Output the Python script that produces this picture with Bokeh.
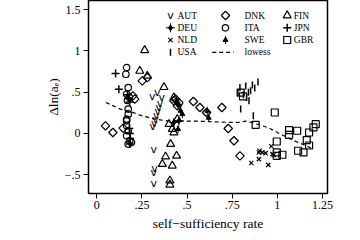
import math
from bokeh.plotting import figure
from bokeh.models import Range1d, FixedTicker, Label, Title
from bokeh.core.properties import value
from bokeh.embed import file_html
from bokeh.resources import INLINE

# ---------------- data ----------------
aut_x = [0.307, 0.335, 0.360, 0.310, 0.318, 0.325, 0.330, 0.337, 0.343, 0.350, 0.316, 0.320, 0.316, 0.316]
aut_y = [0.450, 0.490, 0.440, 0.080, 0.120, 0.170, 0.220, 0.270, 0.310, 0.360, -0.190, -0.420, -0.470, -0.610]

deu_x = [0.427, 0.440, 0.450, 0.455]
deu_y = [0.133, 0.380, 0.350, 0.153]

nld_x = [0.856, 0.898, 0.902, 0.917, 0.935, 0.898, 0.950, 0.967, 0.973, 0.980]
nld_y = [-0.357, -0.230, -0.209, -0.229, -0.237, -0.310, -0.380, -0.155, -0.249, -0.260]

usa_x = [0.782, 0.793, 0.812, 0.825, 0.830, 0.840, 0.843, 0.852, 0.862, 0.875, 0.893, 0.797, 0.867]
usa_y = [0.495, 0.556, 0.470, 0.576, 0.435, 0.500, 0.395, 0.516, 0.588, 0.550, 0.624, 0.295, 0.214]

dnk_x = [0.048, 0.089, 0.146, 0.200, 0.210, 0.252, 0.280, 0.427, 0.437, 0.446, 0.455, 0.535, 0.571, 0.608, 0.693, 0.728, 0.760, 0.793]
dnk_y = [0.093, 0.012, 0.065, 0.455, 0.415, 0.636, 0.676, 0.395, 0.415, 0.334, 0.374, 0.387, 0.314, 0.254, 0.314, 0.060, -0.088, -0.270]

ita_x = [0.165, 0.161, 0.174, 0.165, 0.180, 0.170, 0.174, 0.174, 0.165, 0.165, 0.165, 0.174, 0.165, 0.183, 0.192, 0.174]
ita_y = [0.797, 0.717, 0.556, 0.476, 0.440, 0.400, 0.295, 0.234, 0.174, 0.153, 0.093, 0.033, -0.028, -0.088, -0.109, -0.128]

swe_x = [0.464, 0.474, 0.450, 0.612, 0.620]
swe_y = [0.274, 0.234, 0.053, 0.274, 0.190]

fin_x = [0.238, 0.265, 0.280, 0.372, 0.427, 0.400, 0.446, 0.418, 0.427, 0.409, 0.381, 0.442, 0.363, 0.418, 0.405, 0.405]
fin_y = [0.757, 1.007, 0.697, 0.560, 0.435, 0.113, 0.174, 0.053, 0.012, -0.128, -0.280, -0.270, -0.370, -0.390, -0.570, -0.620]

jpn_x = [0.104, 0.122, 0.170, 0.176, 0.182, 0.180, 0.183, 0.185, 0.183]
jpn_y = [0.725, 0.536, 0.470, 0.420, 0.380, 0.060, 0.000, -0.060, -0.128]

gbr_x = [0.797, 0.810, 0.880, 0.986, 0.997, 0.997, 0.997, 1.028, 1.065, 1.065, 1.110, 1.115, 1.145, 1.163, 1.176, 1.176, 1.200, 1.213]
gbr_y = [0.495, 0.450, 0.105, 0.254, -0.097, -0.229, -0.270, -0.257, 0.040, -0.016, 0.033, -0.209, -0.229, -0.080, -0.145, 0.012, 0.073, 0.113]

lowess_x = [0.05, 0.13, 0.18, 0.25, 0.32, 0.39, 0.46, 0.55, 0.65, 0.73, 0.78, 0.83, 0.88, 0.95, 1.02, 1.09, 1.15, 1.20]
lowess_y = [0.375, 0.295, 0.270, 0.214, 0.174, 0.153, 0.150, 0.150, 0.141, 0.135, 0.133, 0.150, 0.120, 0.070, -0.010, -0.085, -0.140, -0.190]

xtick_vals = [0, 0.25, 0.5, 0.75, 1, 1.25]
xtick_labels = ["0", ".25", ".5", ".75", "1", "1.25"]
ytick_vals = [-0.5, 0, 0.5, 1, 1.5]
ytick_labels = ["\u2212.5", "0", ".5", "1", "1.5"]

x_title = "self\u2212sufficiency rate"
y_title = "\u0394ln(a\u2091)"

# legend labels in three columns
legend_cols = [["AUT", "DEU", "NLD", "USA"],
               ["DNK", "ITA", "SWE", "lowess"],
               ["FIN", "JPN", "GBR"]]

SERIF = "Liberation Serif"
K = "black"

# ---------------- layout constants (pixels) ----------------
FL, FW, FH = 88, 239, 193           # frame left, width, height (frame top at 0)
leg_row_y = [15, 27.3, 39.5, 51.8]   # screen y of legend rows
leg_key_x = [170, 225, 286.7]        # screen x of legend key centres
leg_lab_x = [177, 244, 293.3]        # screen x of legend label starts
leg_line = (211.7, 233.3)            # lowess key extent

p = figure(frame_width=FW, frame_height=FH,
           x_range=Range1d(-0.046, 1.278), y_range=Range1d(-0.726, 1.609),
           output_backend="svg", toolbar_location=None,
           min_border_left=FL, min_border_top=0, min_border_right=25, min_border_bottom=30)
p.extra_x_ranges = {"px": Range1d(0, FW)}
p.extra_y_ranges = {"px": Range1d(0, FH)}
p.background_fill_color = "white"
p.border_fill_color = "white"
p.outline_line_color = "black"
p.outline_line_width = 1.5
p.xgrid.visible = False
p.ygrid.visible = False

p.xaxis.ticker = FixedTicker(ticks=xtick_vals)
p.yaxis.ticker = FixedTicker(ticks=ytick_vals)
p.xaxis.major_label_overrides = {v: l for v, l in zip(xtick_vals, xtick_labels)}
p.yaxis.major_label_overrides = {v: l for v, l in zip(ytick_vals, ytick_labels)}

for ax in (p.xaxis[0], p.yaxis[0]):
    ax.axis_line_color = None
    ax.major_tick_out = 5
    ax.major_tick_in = 0
    ax.major_tick_line_color = "black"
    ax.minor_tick_line_color = None
    ax.major_label_text_font = SERIF
    ax.major_label_text_font_size = "12px"
    ax.major_label_text_color = "black"
p.xaxis.major_label_standoff = 2
p.yaxis.major_label_standoff = 3

# axis titles as side-panel titles
p.add_layout(Title(text=x_title, align="center", vertical_align="middle", standoff=6,
                   text_font=SERIF, text_font_size="13.5px", text_font_style="normal",
                   text_color=K), "below")
p.add_layout(Title(text=y_title, align="center", vertical_align="middle", standoff=0,
                   text_font=SERIF, text_font_size="13.5px", text_font_style="normal",
                   text_color=K), "left")
p.add_layout(Title(text=" ", text_font_size="1px", standoff=37), "left")


def draw(key, xs, ys, **rn):
    if key == "AUT":
        p.text(x=xs, y=ys, text=value("v"), text_font=value("DejaVu Sans"),
               text_font_size="11px", text_align="center", text_baseline="middle", text_color=K, **rn)
    elif key == "DEU":
        p.scatter(xs, ys, marker="cross", size=9, line_color=K, line_width=1, **rn)
        p.scatter(xs, ys, marker="diamond", size=6, line_color=K, fill_color=K, **rn)
    elif key == "NLD":
        p.scatter(xs, ys, marker="x", size=6, line_color=K, line_width=1.2, **rn)
    elif key == "USA":
        p.scatter(xs, ys, marker="dash", angle=math.pi / 2, size=7, line_color=K, line_width=1.5, **rn)
    elif key == "DNK":
        p.scatter(xs, ys, marker="square", angle=math.pi / 4, size=6, line_color=K,
                  fill_color=None, line_width=1.2, **rn)
    elif key == "ITA":
        p.scatter(xs, ys, marker="circle", size=6.5, line_color=K, fill_color=None, line_width=1.2, **rn)
    elif key == "SWE":
        p.scatter(xs, ys, marker="dash", angle=math.pi / 2, size=8, line_color=K, line_width=1, **rn)
        p.scatter(xs, ys, marker="triangle", size=5, line_color=K, fill_color=K, **rn)
    elif key == "FIN":
        p.scatter(xs, ys, marker="triangle", size=8, line_color=K, fill_color=None, line_width=1.2, **rn)
    elif key == "JPN":
        p.scatter(xs, ys, marker="cross", size=8, line_color=K, line_width=1.5, **rn)
    elif key == "GBR":
        p.scatter(xs, ys, marker="square", size=7, line_color=K, fill_color=None, line_width=1.2, **rn)
    elif key == "lowess":
        p.line(xs, ys, line_color=K, line_width=1.2, line_dash="4 3", **rn)


series = {"AUT": (aut_x, aut_y), "DEU": (deu_x, deu_y), "NLD": (nld_x, nld_y), "USA": (usa_x, usa_y),
          "DNK": (dnk_x, dnk_y), "ITA": (ita_x, ita_y), "SWE": (swe_x, swe_y),
          "FIN": (fin_x, fin_y), "JPN": (jpn_x, jpn_y), "GBR": (gbr_x, gbr_y),
          "lowess": (lowess_x, lowess_y)}
for key, (xs, ys) in series.items():
    draw(key, xs, ys)

# legend (keys drawn in pixel space inside the frame)
px = dict(x_range_name="px", y_range_name="px")
for c, col in enumerate(legend_cols):
    for r, key in enumerate(col):
        sy = FH - leg_row_y[r]
        if key == "lowess":
            draw(key, [leg_line[0] - FL, leg_line[1] - FL], [sy, sy], **px)
        else:
            draw(key, [leg_key_x[c] - FL], [sy], **px)
        p.add_layout(Label(x=leg_lab_x[c] - FL, y=sy, x_units="screen", y_units="screen", text=key,
                           text_font=SERIF, text_font_size="9.5px", text_color=K,
                           text_align="left", text_baseline="middle"))

open("out.html", "w").write(file_html(p, INLINE))
